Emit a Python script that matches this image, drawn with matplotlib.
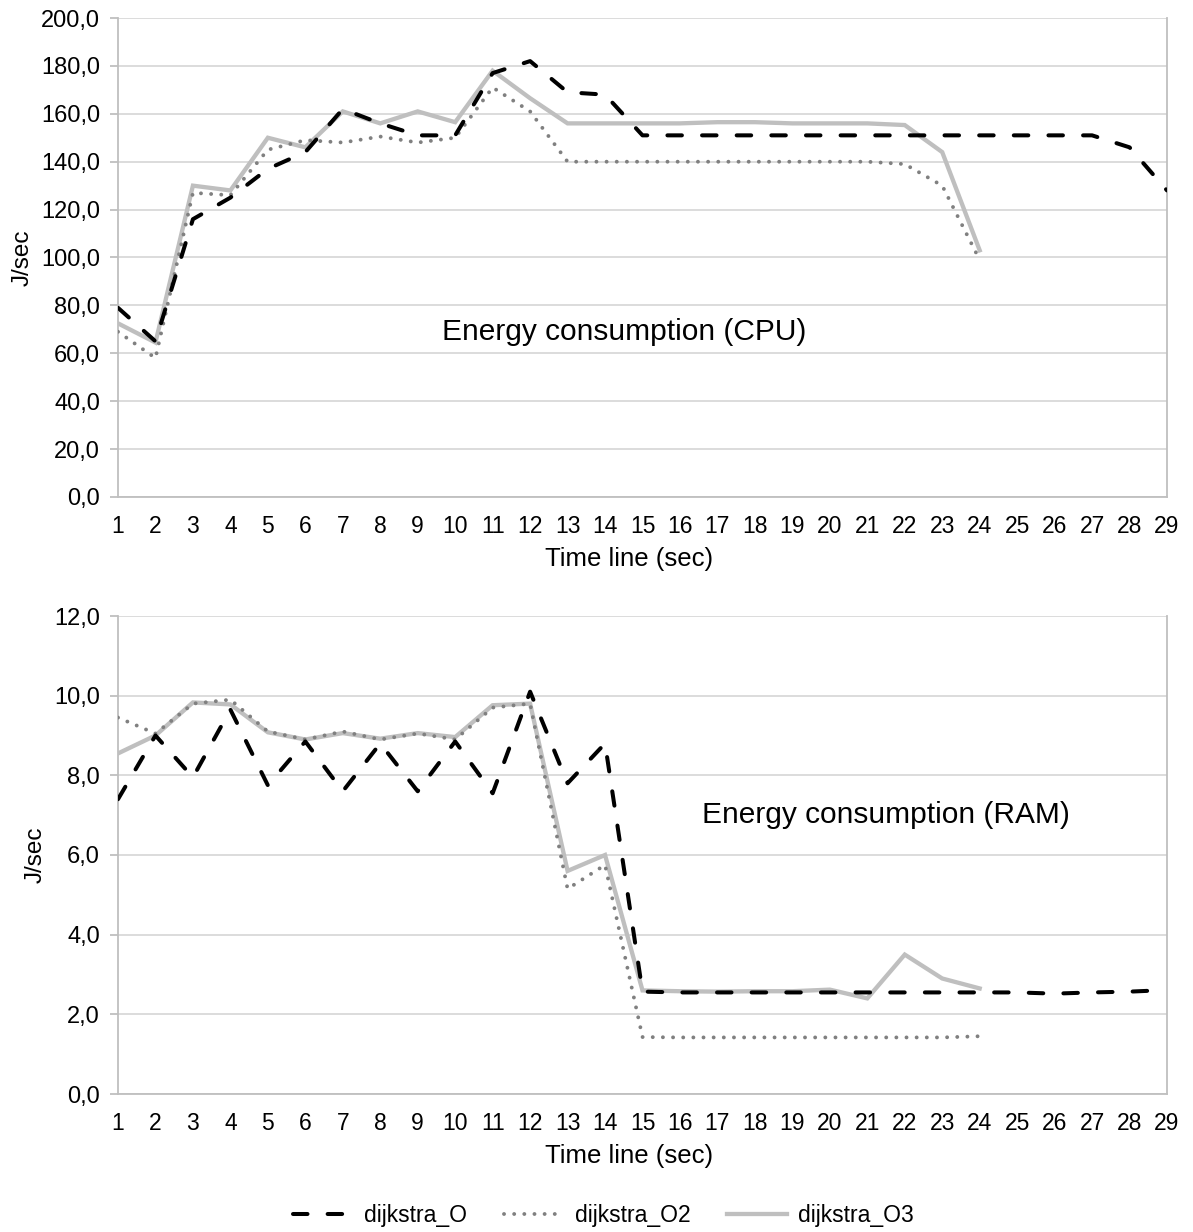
import matplotlib
matplotlib.use("Agg")
import matplotlib.pyplot as plt
from matplotlib.ticker import FuncFormatter, MultipleLocator

plt.rcParams['font.family'] = ['Liberation Sans', 'DejaVu Sans']

# ---------------- data ----------------
time_cpu = list(range(1, 30))
cpu_O = [79, 65, 116, 125, 137, 144, 162, 156, 151, 151, 177, 182, 169, 168, 151,
         151, 151, 151, 151, 151, 151, 151, 151, 151, 151, 151, 151, 146, 128]
time_O2 = list(range(1, 25))
cpu_O2 = [69, 58, 127, 126, 145, 149, 148, 150.5, 148, 150, 171, 161, 140, 140, 140,
          140, 140, 140, 140, 140, 140, 139, 130, 99]
cpu_O3 = [72.5, 64.5, 130, 128, 150, 146, 161, 156, 161, 156.5, 178, 166.5, 156, 156, 156,
          156, 156.5, 156.5, 156, 156, 156, 155.3, 144, 103]

ram_O = [7.4, 9.0, 7.95, 9.65, 7.75, 8.85, 7.6, 8.8, 7.6, 8.85, 7.55, 10.1, 7.8, 8.8, 2.57,
         2.55, 2.55, 2.55, 2.55, 2.55, 2.55, 2.55, 2.55, 2.55, 2.55, 2.52, 2.55, 2.57, 2.61]
ram_O2 = [9.45, 9.05, 9.8, 9.9, 9.1, 8.9, 9.1, 8.9, 9.05, 8.9, 9.7, 9.8, 5.15, 5.75, 1.43,
          1.42, 1.42, 1.42, 1.42, 1.42, 1.42, 1.42, 1.42, 1.45]
ram_O3 = [8.55, 9.0, 9.83, 9.78, 9.08, 8.9, 9.06, 8.92, 9.06, 8.96, 9.76, 9.8, 5.6, 6.0, 2.6,
          2.58, 2.57, 2.58, 2.58, 2.62, 2.4, 3.5, 2.9, 2.65]

series_names = ['dijkstra_O', 'dijkstra_O2', 'dijkstra_O3']
# ---------------------------------------

fig = plt.figure(figsize=(11.93, 12.32), dpi=100)
W, H = 1193, 1232
left = 118 / W
width = (1167 - 118) / W
ax1 = fig.add_axes([left, 1 - 497 / H, width, (497 - 18) / H])
ax2 = fig.add_axes([left, 1 - 1094 / H, width, (1094 - 616) / H])

grid_col = '#D9D9D9'
spine_col = '#BFBFBF'

fmt = FuncFormatter(lambda v, p: f"{v:.1f}".replace('.', ','))

def style_axes(ax, ymax, step, ylabel_x):
    ax.set_xlim(1, 29)
    ax.set_ylim(0, ymax)
    ax.set_xticks(range(1, 30))
    ax.yaxis.set_major_locator(MultipleLocator(step))
    ax.yaxis.set_major_formatter(fmt)
    ax.grid(axis='y', color=grid_col, linewidth=1.3)
    ax.set_axisbelow(True)
    ax.spines['top'].set_visible(False)
    for s in ['left', 'right', 'bottom']:
        ax.spines[s].set_color(spine_col)
        ax.spines[s].set_linewidth(1.3)
    ax.tick_params(axis='y', length=6, color=spine_col, width=1.3, labelsize=17, pad=7)
    ax.tick_params(axis='x', length=0, labelsize=16.5, pad=13)
    ax.set_ylabel('J/sec', fontsize=17.5)
    ax.yaxis.set_label_coords(ylabel_x, 0.5)
    ax.set_xlabel('Time line (sec)', fontsize=18.5)
    ax.xaxis.set_label_coords(0.487, -0.105)


def draw(ax, x_full, x_short, yO, yO2, yO3):
    lO3, = ax.plot(x_short, yO3, color='#BFBFBF', linewidth=3.1, solid_joinstyle='miter',
                   label=series_names[2], zorder=3)
    lO2, = ax.plot(x_short, yO2, color='#808080', linewidth=2.8, linestyle=(0, (0.01, 2.6)),
                   dash_capstyle='round', label=series_names[1], zorder=4)
    lO, = ax.plot(x_full, yO, color='#000000', linewidth=2.9, linestyle=(0, (3.6, 5.0)),
                  dash_capstyle='round', label=series_names[0], zorder=5)
    return lO, lO2, lO3


style_axes(ax1, 200, 20, -0.08)
h = draw(ax1, time_cpu, time_O2, cpu_O, cpu_O2, cpu_O3)
ax1.text(14.5, 69, 'Energy consumption (CPU)', fontsize=21.5, ha='center', va='center')

style_axes(ax2, 12, 2, -0.068)
draw(ax2, time_cpu, time_O2, ram_O, ram_O2, ram_O3)
ax2.text(21.5, 7.0, 'Energy consumption (RAM)', fontsize=21.5, ha='center', va='center')

fig.legend(handles=list(h), labels=series_names, loc='center', bbox_to_anchor=(0.506, 0.0135),
           ncol=3, frameon=False, fontsize=16.5, handlelength=2.6, columnspacing=1.6,
           handletextpad=0.5)

fig.savefig('out.png', dpi=100)
